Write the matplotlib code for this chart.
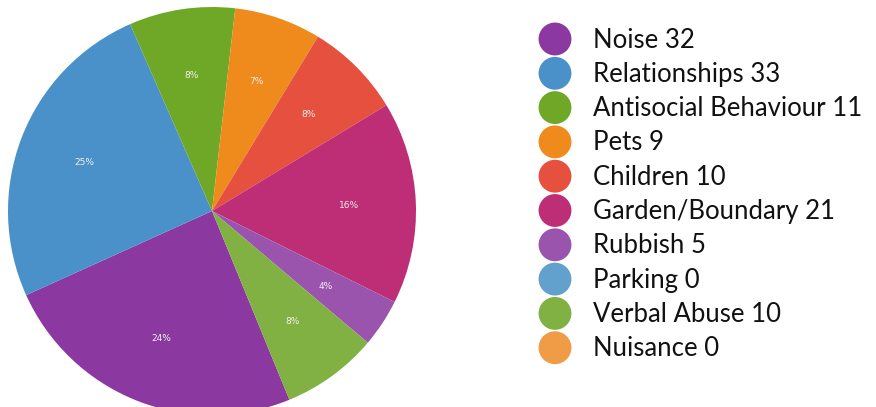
import matplotlib
matplotlib.use("Agg")
import matplotlib.pyplot as plt

categories = ["Noise", "Relationships", "Antisocial Behaviour", "Pets", "Children",
              "Garden/Boundary", "Rubbish", "Parking", "Verbal Abuse", "Nuisance"]
values = [32, 33, 11, 9, 10, 21, 5, 0, 10, 0]
colors = ["#8B38A0", "#4B91C9", "#6FA827", "#EF8A1C", "#E5503F",
          "#BD2E76", "#9B54AD", "#62A0CE", "#80B142", "#F09B45"]

W, H = 876, 407
fig = plt.figure(figsize=(W / 100, H / 100), dpi=100)

cx, cy, r = 212, 211, 204
ax = fig.add_axes([(cx - r) / W, (H - cy - r) / H, 2 * r / W, 2 * r / H])
total = sum(values)

def fmt(p):
    return "" if p < 0.5 else f"{p:.0f}%"

wedges, texts, autotexts = ax.pie(
    values, colors=colors, startangle=-67.7, counterclock=False,
    autopct=fmt, pctdistance=0.67, radius=1.0,
    wedgeprops=dict(linewidth=0),
    textprops=dict(color="#f0f0f0", fontsize=6.5, family="DejaVu Sans"))
ax.set_xlim(-1, 1)
ax.set_ylim(-1, 1)
ax.set_aspect("equal")
ax.axis("off")

# legend
lax = fig.add_axes([0, 0, 1, 1])
lax.set_xlim(0, W)
lax.set_ylim(H, 0)
lax.axis("off")
y0, dy = 39, 34.3
for i, (c, v, col) in enumerate(zip(categories, values, colors)):
    y = y0 + i * dy
    lax.scatter([555], [y], s=560, color=col, edgecolors="none")
    lax.text(593, y + 1, f"{c} {v}", fontsize=18.5, family="Lato",
             color="#111111", va="center", ha="left")

fig.savefig("out.png", dpi=100)
